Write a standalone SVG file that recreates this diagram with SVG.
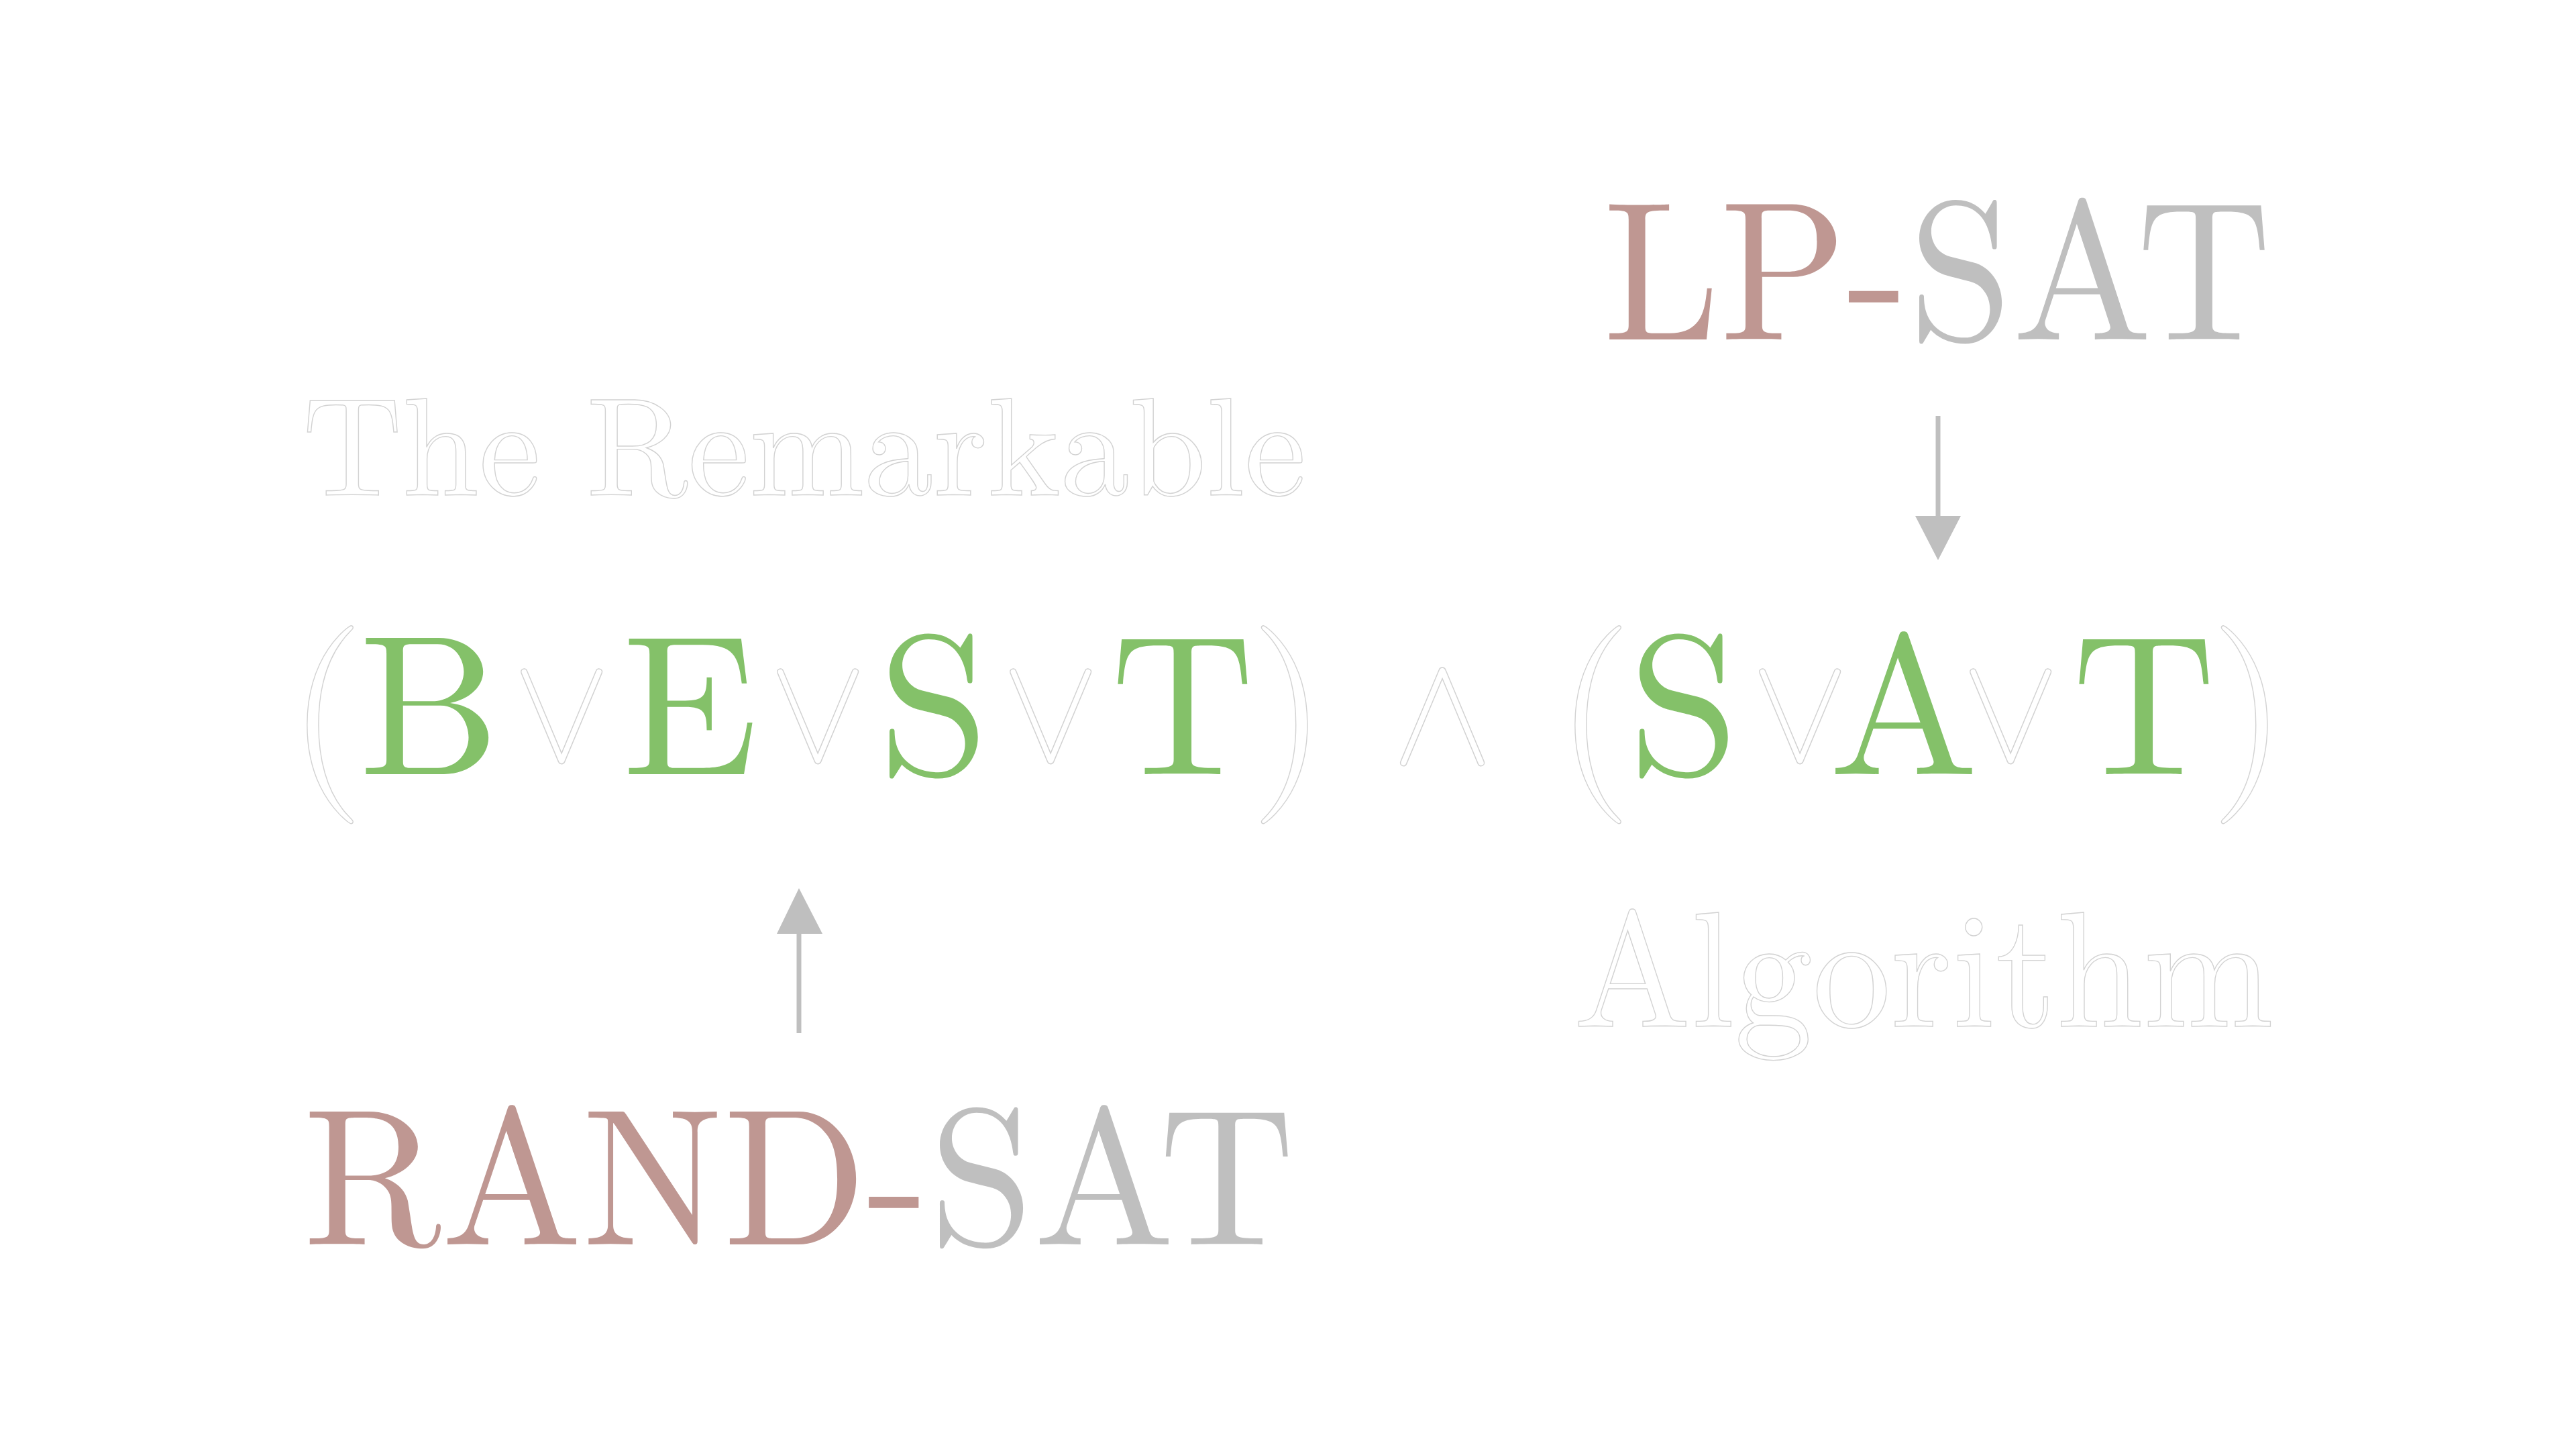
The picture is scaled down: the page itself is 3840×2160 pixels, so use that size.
<svg xmlns="http://www.w3.org/2000/svg" width="3840" height="2160" viewBox="0 0 3840 2160">
<style>
.cm{font-family:'Latin Modern Roman','CMU Serif','Liberation Serif','Times New Roman',serif;}
.sym{font-family:'Latin Modern Math','DejaVu Serif',serif;}
.ghost{fill:#ffffff;stroke:#d2d2d2;stroke-width:1.4;}
.green{fill:#84c169;}
.rose{fill:#bf9792;}
.grey{fill:#bfbfbf;}
.conn{stroke:#bfbfbf;stroke-width:7;fill:none;}
.head{fill:#bfbfbf;}
</style>
<rect x="0" y="0" width="3840" height="2160" fill="#ffffff"/>

<g id="node-lpsat">
<text class="cm" x="2390" y="506" font-size="295" textLength="996" lengthAdjust="spacingAndGlyphs"><tspan class="rose">LP-</tspan><tspan class="grey">SAT</tspan></text>
</g>

<g id="node-title-top">
<text class="cm ghost" x="451" y="738" font-size="208" textLength="1496" lengthAdjust="spacingAndGlyphs">The Remarkable</text>
</g>

<g id="node-best">
<text class="cm ghost" x="486" y="1154" font-size="295" text-anchor="middle">(</text>
<text class="cm green" x="640" y="1154" font-size="297" text-anchor="middle">B</text>
<text class="sym ghost" x="837" y="1134" font-size="228" text-anchor="middle">∨</text>
<text class="cm green" x="1029" y="1154" font-size="297" text-anchor="middle">E</text>
<text class="sym ghost" x="1219" y="1134" font-size="228" text-anchor="middle">∨</text>
<text class="cm green" x="1392" y="1154" font-size="297" text-anchor="middle">S</text>
<text class="sym ghost" x="1566" y="1134" font-size="228" text-anchor="middle">∨</text>
<text class="cm green" x="1763" y="1154" font-size="297" text-anchor="middle">T</text>
<text class="cm ghost" x="1921" y="1154" font-size="295" text-anchor="middle">)</text>
</g>

<g id="node-and">
<text class="sym ghost" x="2150" y="1137" font-size="236" text-anchor="middle">∧</text>
</g>

<g id="node-sat">
<text class="cm ghost" x="2376" y="1154" font-size="295" text-anchor="middle">(</text>
<text class="cm green" x="2510" y="1154" font-size="297" text-anchor="middle">S</text>
<text class="sym ghost" x="2683" y="1134" font-size="228" text-anchor="middle">∨</text>
<text class="cm green" x="2838" y="1154" font-size="297" text-anchor="middle">A</text>
<text class="sym ghost" x="2997" y="1134" font-size="228" text-anchor="middle">∨</text>
<text class="cm green" x="3196" y="1154" font-size="297" text-anchor="middle">T</text>
<text class="cm ghost" x="3352" y="1154" font-size="295" text-anchor="middle">)</text>
</g>

<g id="node-title-bottom">
<text class="cm ghost" x="2346" y="1530" font-size="245" textLength="1043" lengthAdjust="spacingAndGlyphs">Algorithm</text>
</g>

<g id="node-randsat">
<text class="cm" x="452" y="1855" font-size="290" textLength="1478" lengthAdjust="spacingAndGlyphs"><tspan class="rose">RAND-</tspan><tspan class="grey">SAT</tspan></text>
</g>

<g id="connectors">
<line class="conn" x1="2889" y1="620" x2="2889" y2="772"/>
<polygon class="head" points="2855,769 2923,769 2889,835"/>
<line class="conn" x1="1191" y1="1540" x2="1191" y2="1389"/>
<polygon class="head" points="1158,1392 1226,1392 1191,1324"/>
</g>
</svg>
